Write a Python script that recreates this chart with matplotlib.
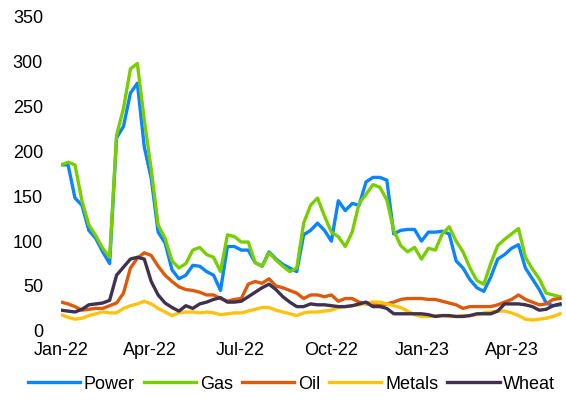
import matplotlib
matplotlib.use("Agg")
import matplotlib.pyplot as plt
import matplotlib.dates as mdates
import pandas as pd

# weekly observations, 1 Jan 2022 onwards
dates = pd.date_range("2022-01-01", periods=73, freq="7D")

power = [185, 185, 148, 140, 112, 103, 88, 75, 215, 228, 265, 276, 205, 170, 110, 98,
         68, 58, 62, 73, 72, 66, 62, 45, 94, 94, 90, 90, 76, 72, 88, 80,
         74, 70, 66, 107, 112, 120, 112, 100, 145, 134, 142, 140, 166, 171, 171, 168,
         108, 112, 113, 113, 100, 110, 110, 111, 108, 78, 70, 57, 48, 44, 60, 80,
         85, 92, 96, 70, 58, 46, 31, 28, 29]
gas = [185, 188, 185, 145, 118, 106, 92, 82, 218, 248, 292, 298, 235, 180, 118, 103,
       78, 70, 75, 90, 93, 85, 82, 66, 107, 105, 99, 99, 76, 72, 87, 79,
       72, 66, 70, 120, 140, 148, 128, 110, 105, 94, 110, 142, 152, 163, 160, 146,
       112, 95, 88, 93, 80, 92, 90, 108, 116, 100, 88, 70, 56, 52, 75, 95,
       102, 108, 114, 82, 69, 58, 42, 40, 38]
oil = [32, 30, 27, 23, 24, 25, 25, 28, 31, 42, 70, 81, 87, 84, 72, 62,
       55, 49, 46, 45, 43, 40, 40, 36, 33, 35, 36, 52, 55, 53, 58, 50,
       48, 45, 42, 36, 40, 40, 38, 40, 33, 36, 36, 32, 30, 30, 28, 30,
       32, 35, 36, 36, 36, 35, 35, 33, 31, 29, 25, 27, 27, 27, 27, 29,
       32, 35, 40, 35, 32, 29, 30, 35, 36]
metals = [18, 15, 13, 14, 17, 19, 21, 20, 20, 25, 28, 30, 33, 30, 25, 21,
          17, 20, 21, 21, 20, 21, 20, 18, 19, 20, 20, 22, 24, 26, 26, 23,
          21, 19, 17, 20, 21, 21, 22, 23, 26, 27, 28, 29, 31, 32, 32, 30,
          28, 26, 22, 18, 16, 16, 17, 17, 16, 16, 17, 17, 18, 20, 21, 22,
          22, 20, 17, 13, 12, 13, 14, 16, 19]
wheat = [23, 22, 21, 24, 29, 30, 31, 34, 62, 71, 80, 82, 80, 55, 40, 31,
         26, 22, 28, 25, 30, 32, 35, 37, 32, 32, 33, 38, 43, 48, 52, 46,
         38, 32, 27, 27, 30, 29, 29, 28, 27, 27, 28, 30, 32, 27, 27, 25,
         19, 19, 19, 19, 19, 18, 16, 17, 17, 16, 16, 17, 19, 19, 19, 22,
         30, 30, 30, 29, 27, 23, 24, 28, 30]

series = [("Power", power, "#0A84FF"),
          ("Gas", gas, "#77CF00"),
          ("Oil", oil, "#DD5A0A"),
          ("Metals", metals, "#FFC20E"),
          ("Wheat", wheat, "#3F3150")]

plt.rcParams["font.family"] = ["Liberation Sans", "DejaVu Sans"]

fig = plt.figure(figsize=(5.66, 4.01), dpi=100)
ax = fig.add_axes([0.108, 0.175, 0.885, 0.783])

for name, vals, col in series:
    ax.plot(dates, vals, color=col, lw=2.4, label=name, solid_joinstyle="round")

ax.set_ylim(0, 350)
ax.set_yticks(range(0, 351, 50))
start = pd.Timestamp("2022-01-01")
ax.set_xlim(start, start + pd.Timedelta(days=506))
ax.xaxis.set_major_locator(mdates.MonthLocator(bymonth=[1, 4, 7, 10]))
ax.xaxis.set_major_formatter(mdates.DateFormatter("%b-%y"))

for s in ax.spines.values():
    s.set_visible(False)
ax.tick_params(axis="y", length=0, pad=13, labelsize=13)
ax.tick_params(axis="x", length=0, pad=8, labelsize=13)

fig.legend(loc="center", bbox_to_anchor=(0.515, 0.042), ncol=5, frameon=False,
           fontsize=13, handlelength=2.9, handletextpad=0.2, columnspacing=0.5)

fig.savefig("out.png", dpi=100)
